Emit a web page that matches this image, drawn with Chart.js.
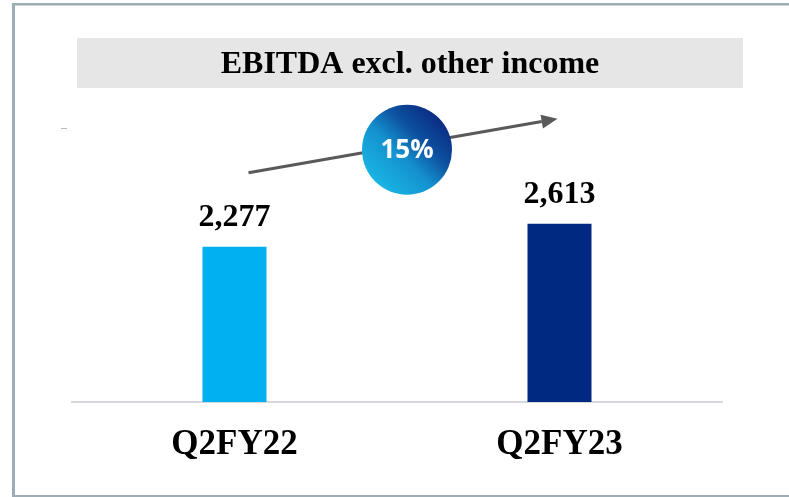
<!DOCTYPE html>
<html>
<head>
<meta charset="utf-8">
<script src="https://cdn.jsdelivr.net/npm/chart.js@4/dist/chart.umd.min.js"></script>
<style>
  html, body { margin: 0; padding: 0; background: #ffffff; }
  #wrap { width: 789px; height: 497px; position: relative; }
  canvas { display: block; }
</style>
</head>
<body>
<div id="wrap"><canvas id="c" width="789" height="497"></canvas></div>
<script>
// ---- data ----
const chartTitle = 'EBITDA excl. other income';
const categories = ['Q2FY22', 'Q2FY23'];
const values = [2277, 2613];
const barColors = ['#00b0f0', '#002a82'];

const growthPct = Math.round((values[1] / values[0] - 1) * 100) + '%';

const decorPlugin = {
  id: 'decor',
  beforeDraw(chart) {
    const ctx = chart.ctx;
    ctx.save();
    // outer frame (open on the right)
    ctx.fillStyle = '#9eacb3';
    ctx.fillRect(12, 3, 777, 2.5);
    ctx.fillRect(12, 3, 3, 494);
    ctx.fillRect(12, 495, 777, 2);
    // title box
    ctx.fillStyle = '#e6e6e6';
    ctx.fillRect(77, 38, 666, 50);
    ctx.fillStyle = '#000000';
    ctx.font = 'bold 32px "Liberation Serif"';
    ctx.textAlign = 'center';
    ctx.textBaseline = 'middle';
    ctx.fillText(chartTitle, 410, 65);
    // tiny dash at left
    ctx.strokeStyle = '#b4bcd2';
    ctx.lineWidth = 1;
    ctx.beginPath();
    ctx.moveTo(61, 128.5);
    ctx.lineTo(67, 128.5);
    ctx.stroke();
    ctx.restore();
  },
  afterDatasetsDraw(chart) {
    const ctx = chart.ctx;
    const meta = chart.getDatasetMeta(0);
    ctx.save();
    // value labels
    ctx.fillStyle = '#000000';
    ctx.font = 'bold 32px "Liberation Serif"';
    ctx.textAlign = 'center';
    ctx.textBaseline = 'alphabetic';
    meta.data.forEach((bar, i) => {
      ctx.fillText(values[i].toLocaleString('en-US'), bar.x, bar.y - 21);
    });
    // growth arrow
    const b0 = meta.data[0], b1 = meta.data[1];
    const x0 = b0.x + 14, y0 = b0.y - 74;
    const x1 = b1.x - 2, y1 = b1.y - 105;
    const ang = Math.atan2(y1 - y0, x1 - x0);
    const headLen = 16, headW = 7;
    const bx = x1 - headLen * Math.cos(ang), by = y1 - headLen * Math.sin(ang);
    ctx.strokeStyle = '#595959';
    ctx.fillStyle = '#595959';
    ctx.lineWidth = 3;
    ctx.beginPath();
    ctx.moveTo(x0, y0);
    ctx.lineTo(bx, by);
    ctx.stroke();
    ctx.beginPath();
    ctx.moveTo(x1, y1);
    ctx.lineTo(bx + headW * Math.sin(ang), by - headW * Math.cos(ang));
    ctx.lineTo(bx - headW * Math.sin(ang), by + headW * Math.cos(ang));
    ctx.closePath();
    ctx.fill();
    // growth bubble
    const cx = (x0 + x1) / 2 + 4, cy = (y0 + y1) / 2 + 4, r = 45;
    const g = ctx.createLinearGradient(cx - r * 0.7, cy + r * 0.7, cx + r * 0.7, cy - r * 0.7);
    g.addColorStop(0, '#19b4e2');
    g.addColorStop(0.4, '#1492cf');
    g.addColorStop(0.7, '#0d509f');
    g.addColorStop(1, '#0a2c82');
    ctx.fillStyle = g;
    ctx.beginPath();
    ctx.arc(cx, cy, r, 0, Math.PI * 2);
    ctx.fill();
    ctx.fillStyle = '#ffffff';
    ctx.font = 'bold 26px "Open Sans"';
    ctx.textAlign = 'center';
    ctx.textBaseline = 'middle';
    ctx.fillText(growthPct, cx, cy + 1);
    ctx.restore();
  }
};

new Chart(document.getElementById('c'), {
  type: 'bar',
  data: {
    labels: categories,
    datasets: [{
      data: values,
      backgroundColor: barColors,
      borderWidth: 0,
      barPercentage: 0.394,
      categoryPercentage: 0.5
    }]
  },
  options: {
    responsive: false,
    animation: false,
    layout: { padding: { left: 72, right: 67, top: 102, bottom: 9 } },
    plugins: { legend: { display: false }, tooltip: { enabled: false }, title: { display: false } },
    scales: {
      y: { display: false, min: 0, max: 4400 },
      x: {
        grid: { display: false, drawTicks: false },
        border: { display: true, color: '#d5d8dc', width: 2 },
        ticks: {
          color: '#000000',
          padding: 22,
          font: { family: '"Liberation Serif"', weight: 'bold', size: 35 }
        }
      }
    }
  },
  plugins: [decorPlugin]
});
</script>
</body>
</html>
